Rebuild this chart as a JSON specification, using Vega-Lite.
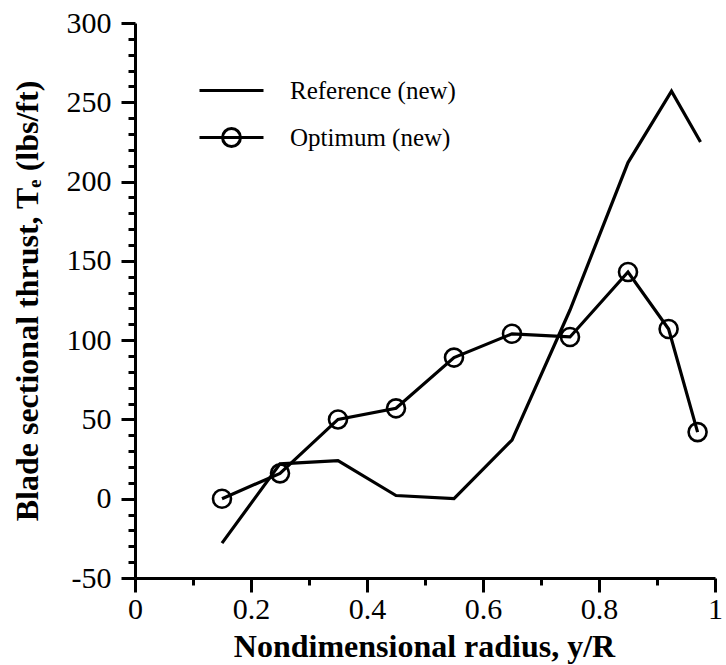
{
  "$schema": "https://vega.github.io/schema/vega-lite/v6.json",
  "width": 580,
  "height": 555,
  "autosize": {"type": "none"},
  "padding": {"left": 135, "top": 23, "right": 11, "bottom": 87},
  "background": "white",
  "config": {
    "font": "Liberation Serif",
    "view": {"stroke": null},
    "axis": {
      "labelFont": "Liberation Serif",
      "titleFont": "Liberation Serif",
      "tickWidth": 3,
      "tickColor": "black",
      "grid": false
    }
  },
  "datasets": {
    "curves": [
      {"series": "Reference (new)", "r": 0.15, "t": -28},
      {"series": "Reference (new)", "r": 0.25, "t": 22},
      {"series": "Reference (new)", "r": 0.35, "t": 24},
      {"series": "Reference (new)", "r": 0.45, "t": 2},
      {"series": "Reference (new)", "r": 0.55, "t": 0},
      {"series": "Reference (new)", "r": 0.65, "t": 37},
      {"series": "Reference (new)", "r": 0.75, "t": 119},
      {"series": "Reference (new)", "r": 0.85, "t": 212},
      {"series": "Reference (new)", "r": 0.925, "t": 257},
      {"series": "Reference (new)", "r": 0.975, "t": 225},
      {"series": "Optimum (new)", "r": 0.15, "t": 0},
      {"series": "Optimum (new)", "r": 0.25, "t": 16},
      {"series": "Optimum (new)", "r": 0.35, "t": 50},
      {"series": "Optimum (new)", "r": 0.45, "t": 57},
      {"series": "Optimum (new)", "r": 0.55, "t": 89},
      {"series": "Optimum (new)", "r": 0.65, "t": 104},
      {"series": "Optimum (new)", "r": 0.75, "t": 102},
      {"series": "Optimum (new)", "r": 0.85, "t": 143},
      {"series": "Optimum (new)", "r": 0.92, "t": 107},
      {"series": "Optimum (new)", "r": 0.97, "t": 42}
    ]
  },
  "data": {"name": "curves"},
  "layer": [
    {
      "mark": {"type": "line", "color": "black", "strokeWidth": 3.2},
      "encoding": {
        "x": {
          "field": "r", "type": "quantitative",
          "scale": {"domain": [0, 1], "nice": false, "zero": false},
          "axis": {
            "orient": "bottom",
            "values": [0, 0.2, 0.4, 0.6, 0.8, 1],
            "grid": false,
            "domainColor": "black",
            "domainWidth": 3,
            "tickColor": "black",
            "tickWidth": 3,
            "tickSize": 14,
            "labelFont": "Liberation Serif",
            "labelFontSize": 30,
            "labelColor": "black",
            "labelFlush": false,
            "labelOverlap": false,
            "labelPadding": 26,
            "labelBaseline": "alphabetic",
            "labelExpr": "datum.value",
            "title": "Nondimensional radius, y/R",
            "titleFont": "Liberation Serif",
            "titleFontSize": 32,
            "titleFontWeight": "bold",
            "titleColor": "black",
            "titleX": 289,
            "titleY": 78,
            "titleAlign": "center",
            "titleBaseline": "alphabetic"
          }
        },
        "y": {
          "field": "t", "type": "quantitative",
          "scale": {"domain": [-50, 300], "nice": false, "zero": false},
          "axis": {
            "orient": "left",
            "values": [-50, 0, 50, 100, 150, 200, 250, 300],
            "grid": false,
            "domainColor": "black",
            "domainWidth": 3,
            "tickColor": "black",
            "tickWidth": 3,
            "tickSize": 14,
            "labelFont": "Liberation Serif",
            "labelFontSize": 30,
            "labelColor": "black",
            "labelFlush": false,
            "labelOverlap": false,
            "labelPadding": 10,
            "labelExpr": "datum.value",
            "title": "Blade sectional thrust, Tₑ (lbs/ft)",
            "titleFont": "Liberation Serif",
            "titleFontSize": 32,
            "titleFontWeight": "bold",
            "titleColor": "black",
            "titleX": -108,
            "titleY": 277.5,
            "titleAngle": -90,
            "titleAlign": "center",
            "titleBaseline": "middle"
          }
        },
        "detail": {"field": "series", "type": "nominal"}
      }
    },
    {
      "transform": [{"filter": "datum.series === 'Optimum (new)'"}],
      "mark": {"type": "point", "shape": "circle", "filled": false, "color": "black", "strokeWidth": 2.6, "size": 324, "opacity": 1},
      "encoding": {
        "x": {
          "field": "r", "type": "quantitative",
          "axis": {
            "orient": "bottom",
            "values": [0.1, 0.3, 0.5, 0.7, 0.9],
            "grid": false,
            "tickColor": "black",
            "tickWidth": 3,
            "tickSize": 7,
            "labels": false,
            "domain": false,
            "title": null
          }
        },
        "y": {
          "field": "t", "type": "quantitative",
          "axis": {
            "orient": "left",
            "values": [-40, -30, -20, -10, 10, 20, 30, 40, 60, 70, 80, 90, 110, 120, 130, 140, 160, 170, 180, 190, 210, 220, 230, 240, 260, 270, 280, 290],
            "grid": false,
            "tickColor": "black",
            "tickWidth": 3,
            "tickSize": 7,
            "labels": false,
            "domain": false,
            "title": null
          }
        }
      }
    },
    {
      "transform": [{"filter": "false"}],
      "mark": {"type": "point", "filled": false, "color": "black", "strokeWidth": 3},
      "encoding": {
        "x": {"field": "r", "type": "quantitative", "axis": null},
        "y": {"field": "t", "type": "quantitative", "axis": null},
        "shape": {
          "field": "series", "type": "nominal",
          "scale": {
            "domain": ["Reference (new)", "Optimum (new)"],
            "range": ["M-1,0H1", "M-1,0H1M-0.28,0A0.28,0.28 0 1,0 0.28,0A0.28,0.28 0 1,0 -0.28,0"]
          },
          "legend": {
            "orient": "none",
            "legendX": 63,
            "legendY": 34,
            "title": null,
            "symbolSize": 4096,
            "symbolStrokeWidth": 3,
            "symbolStrokeColor": "black",
            "symbolFillColor": "transparent",
            "symbolOpacity": 1,
            "labelFont": "Liberation Serif",
            "labelFontSize": 25,
            "labelColor": "black",
            "labelOffset": 25,
            "labelLimit": 400,
            "rowPadding": 0,
            "padding": 0,
            "offset": 0
          }
        }
      }
    }
  ],
  "resolve": {"axis": {"x": "independent", "y": "independent"}}
}
